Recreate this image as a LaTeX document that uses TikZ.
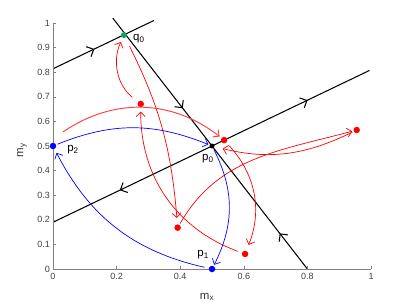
\documentclass[tikz,border=0pt]{standalone}
\usepackage{fontspec}
\setmainfont{Liberation Sans}
\usetikzlibrary{arrows.meta,decorations.markings,backgrounds}

\definecolor{verde}{RGB}{20,160,100}
\definecolor{rojo}{RGB}{255,0,0}
\definecolor{azul}{RGB}{0,0,255}
\definecolor{gris}{RGB}{128,128,128}

\begin{document}
\begin{tikzpicture}[x=318pt, y=246pt,
	punto/.style={circle, inner sep=0pt, minimum size=6.5pt, outer sep=1.5pt},
	num/.style={text=black!75, font=\fontsize{9}{10}\selectfont, inner sep=1pt},
	etiq/.style={font=\fontsize{11.5}{13}\selectfont, inner sep=0pt},
	tray/.style={line width=0.7pt, -{Straight Barb[length=4.5pt,width=9pt]}},
	var/.style={line width=1.05pt},
	media/.style={postaction={decorate}, decoration={markings,
		mark=at position #1 with {\arrow{Straight Barb[length=5.5pt,width=11pt]}}}}]

\useasboundingbox (-53pt,-37pt) rectangle (356pt,269pt);

% Ejes
\draw[gris, line width=0.5pt] (0,1) -- (0,0) -- (1,0);
	\foreach \y [count=\i] in {0, 0.1, 0.2, 0.3, 0.4, 0.5, 0.6, 0.7, 0.8, 0.9, 1}
		\draw[gris] (0,\y) node[num, anchor=east, xshift=-2pt] (ty\i) {\y} -- ++(3pt,0);

	\foreach \x [count=\i] in {0, 0.2, 0.4, 0.6, 0.8, 1}
		\draw[gris] (\x,0) node[num, anchor=north, yshift=-3pt] (tx\i) {\x} -- ++(0,3pt);

\node[etiq, text=black!80, rotate=90] (my) at (-31pt,119pt) {m\textsubscript{y}};
\node[etiq, text=black!80] (mx) at (154pt,-28pt) {m\textsubscript{x}};

% Puntos
\node[punto, fill=black, minimum size=5pt] (p0) at (0.5,0.5) {};
\node[punto, fill=azul] (p1) at (0.5,0) {};
\node[punto, fill=azul] (p2) at (0,0.5) {};
\node[punto, fill=verde, minimum size=6pt] (q0) at (0.223,0.951) {};
\node[punto, fill=rojo] (r1) at (0.276,0.671) {};
\node[punto, fill=rojo] (r2) at (0.538,0.524) {};
\node[punto, fill=rojo] (r3) at (0.955,0.565) {};
\node[punto, fill=rojo] (r4) at (0.392,0.168) {};
\node[punto, fill=rojo] (r5) at (0.604,0.061) {};
\coordinate (f0) at (0.031,0.557);

\node[etiq] (lq0) at (0.270,0.935) {q\textsubscript{0}};
\node[etiq] (lp0) at (0.487,0.447) {p\textsubscript{0}};
\node[etiq] (lp1) at (0.472,0.057) {p\textsubscript{1}};
\node[etiq] (lp2) at (0.063,0.484) {p\textsubscript{2}};

% Variedades
\begin{scope}[on background layer]
	\coordinate (a1) at (0.188,1.02);
	\coordinate (a2) at (0.8,0);
	\coordinate (c1) at (0,0.19);
	\coordinate (c2) at (0.995,0.807);
	\coordinate (b1) at (0,0.814);
	\coordinate (b2) at (0.317,1.01);

	\draw[var, media=0.41] (b1) -- (b2);
	\draw[var, media=0.705] (a1) -- (p0.center);
	\draw[var, media=0.29] (a2) -- (p0.center);
	\draw[var, media=0.607] (p0.center) -- (c2);
	\draw[var, media=0.58] (p0.center) -- (c1);
\end{scope}

% Trayectorias
\draw[tray, rojo, shorten <=6pt, shorten >=3pt] (r1) to[bend left=38] (q0);
\draw[tray, rojo, shorten <=8pt, shorten >=5pt] (q0) to[bend left=11] (r4);
\draw[tray, rojo, shorten <=3pt, shorten >=3pt] (r5) to[bend left=35] (r1);
\draw[tray, rojo] (r4) to[out=60, in=195] (r3);
\draw[tray, rojo, shorten >=7pt] (r3) to[bend left=20] (p0);
\draw[tray, rojo!75, line width=0.95pt, shorten >=1pt] (f0) to[bend left=36] (r2);
\draw[tray, rojo, shorten <=3pt, shorten >=5pt] (r2) to[bend left=32] (r5);
\draw[tray, azul] (p2) to[bend left=22] (p0);
\draw[tray, azul] (p0) to[bend left=27] (p1);
\draw[tray, azul, shorten <=3pt, shorten >=3pt] (p1) to[bend left=25] (p2);
\end{tikzpicture}
\end{document}
